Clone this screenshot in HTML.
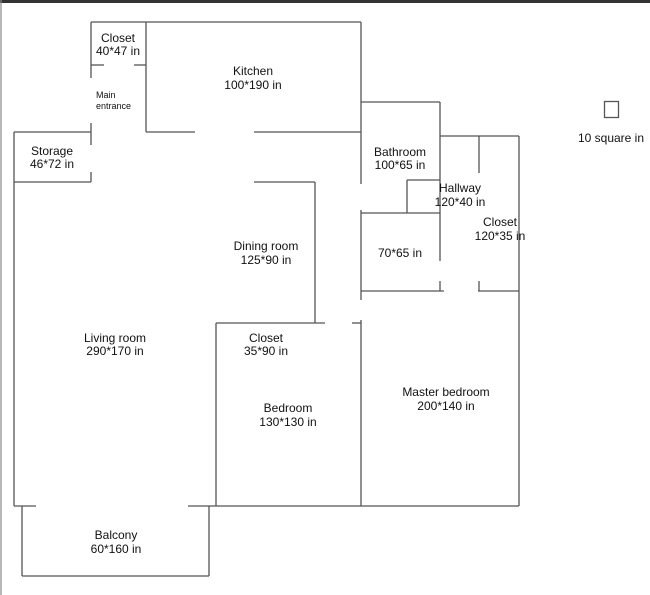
<!DOCTYPE html>
<html><head><style>
html,body{margin:0;padding:0;background:#fff;}
svg{display:block;}
text{font-family:"Liberation Sans",Arial,sans-serif;font-size:12px;fill:#111;text-anchor:middle;}
</style></head><body>
<svg width="650" height="595" viewBox="0 0 650 595" xmlns="http://www.w3.org/2000/svg">
<rect x="0" y="0" width="650" height="3" fill="#333"/>
<line x1="1" y1="0" x2="1" y2="595" stroke="#888" stroke-width="1.2"/>
<g stroke="#555" stroke-width="1.3" fill="none">
<!-- top -->
<line x1="91" y1="22" x2="361" y2="22"/>
<line x1="91" y1="22" x2="91" y2="78"/>
<line x1="91" y1="123" x2="91" y2="145"/>
<line x1="91" y1="172" x2="91" y2="182"/>
<line x1="91" y1="65" x2="104" y2="65"/>
<line x1="134" y1="65" x2="146" y2="65"/>
<line x1="146" y1="22" x2="146" y2="132"/>
<line x1="146" y1="132" x2="195" y2="132"/>
<line x1="254" y1="132" x2="361" y2="132"/>
<line x1="361" y1="22" x2="361" y2="184"/>
<line x1="361" y1="210" x2="361" y2="300"/>
<line x1="361" y1="320" x2="361" y2="506"/>
<!-- storage -->
<line x1="14" y1="132" x2="91" y2="132"/>
<line x1="14" y1="182" x2="91" y2="182"/>
<line x1="14" y1="132" x2="14" y2="506"/>
<!-- bathroom / hallway -->
<line x1="361" y1="102" x2="440" y2="102"/>
<line x1="440" y1="102" x2="440" y2="261"/>
<line x1="440" y1="281" x2="440" y2="291"/>
<line x1="440" y1="136" x2="519" y2="136"/>
<line x1="479" y1="136" x2="479" y2="173"/>
<line x1="479" y1="281" x2="479" y2="291"/>
<line x1="519" y1="136" x2="519" y2="506"/>
<line x1="407" y1="180" x2="440" y2="180"/>
<line x1="407" y1="180" x2="407" y2="213"/>
<line x1="361" y1="213" x2="440" y2="213"/>
<line x1="361" y1="291" x2="444" y2="291"/>
<line x1="478" y1="291" x2="519" y2="291"/>
<!-- dining -->
<line x1="254" y1="182" x2="315" y2="182"/>
<line x1="315" y1="182" x2="315" y2="323"/>
<line x1="216" y1="323" x2="325" y2="323"/>
<line x1="352" y1="323" x2="361" y2="323"/>
<line x1="216" y1="323" x2="216" y2="506"/>
<!-- bottom -->
<line x1="188" y1="506" x2="519" y2="506"/>
<line x1="14" y1="506" x2="36" y2="506"/>
<line x1="22" y1="506" x2="22" y2="576"/>
<line x1="22" y1="576" x2="209" y2="576"/>
<line x1="209" y1="506" x2="209" y2="576"/>
<!-- legend -->
<rect x="604.5" y="101.5" width="14" height="16"/>
</g>
<text x="118" y="42">Closet</text><text x="118" y="55">40*47 in</text>
<text x="96" y="98" style="text-anchor:start;font-size:9px">Main</text>
<text x="96" y="109" style="text-anchor:start;font-size:9px">entrance</text>
<text x="253" y="75">Kitchen</text><text x="253" y="89">100*190 in</text>
<text x="52" y="155">Storage</text><text x="52" y="168">46*72 in</text>
<text x="400" y="156">Bathroom</text><text x="400" y="169">100*65 in</text>
<text x="460" y="192">Hallway</text><text x="460" y="206">120*40 in</text>
<text x="500" y="226">Closet</text><text x="500" y="240">120*35 in</text>
<text x="400" y="257">70*65 in</text>
<text x="266" y="250">Dining room</text><text x="266" y="264">125*90 in</text>
<text x="115" y="342">Living room</text><text x="115" y="355">290*170 in</text>
<text x="266" y="342">Closet</text><text x="266" y="355">35*90 in</text>
<text x="288" y="412">Bedroom</text><text x="288" y="426">130*130 in</text>
<text x="446" y="396">Master bedroom</text><text x="446" y="410">200*140 in</text>
<text x="116" y="539">Balcony</text><text x="116" y="553">60*160 in</text>
<text x="611" y="142">10 square in</text>
</svg>
</body></html>
